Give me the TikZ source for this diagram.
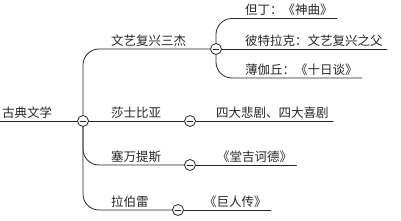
\documentclass[tikz,border=0pt]{standalone}
\usepackage{fontspec}
\newfontfamily\cjk{Noto Sans CJK SC}
\definecolor{inkgray}{HTML}{262626}
\begin{document}
\begin{tikzpicture}[x=1pt,y=-1pt,line cap=round,line join=round,
    topic/.style={font=\cjk\fontsize{12.5}{14}\selectfont,text=inkgray,
      anchor=south west,inner xsep=2pt,inner ysep=2.5pt},
    leaf/.style={topic,inner xsep=4pt},
    fold/.style={circle,draw=inkgray,fill=white,line width=0.8pt,
      minimum size=11pt,inner sep=0pt,
      path picture={\draw[inkgray,line width=0.8pt]
        ([xshift=-3pt]path picture bounding box.center) --
        ([xshift=3pt]path picture bounding box.center);}},
    link/.style={draw=inkgray,line width=0.8pt,rounded corners=16pt}]
  \useasboundingbox (0,0) rectangle (401,221);

  % root and its fold
  \node[topic] (root) at (0,121) {古典文学};
  \node[fold] (c0) at (83,121) {};

  % main branches
  \node[topic] (b1) at (109,49)  {文艺复兴三杰};
  \node[topic] (b2) at (109,121) {莎士比亚};
  \node[topic] (b3) at (109,165) {塞万提斯};
  \node[topic] (b4) at (109,210) {拉伯雷};

  \node[fold] (c1) at (216,49)  {};
  \node[fold] (c2) at (190,121) {};
  \node[fold] (c3) at (190,165) {};
  \node[fold] (c4) at (178,210) {};

  % leaves
  \node[leaf] (l1) at (241,18.5) {但丁：《神曲》};
  \node[leaf] (l2) at (241,49)   {彼特拉克：文艺复兴之父};
  \node[leaf] (l3) at (241,78)   {薄伽丘：《十日谈》};
  \node[leaf] (l4) at (212,121)  {四大悲剧、四大喜剧};
  \node[leaf] (l5) at (213,165)  {《堂吉诃德》};
  \node[leaf] (l6) at (200,210)  {《巨人传》};

  \path[link] (root.south west) -- (c0);
  \path[link] (c0) |- (c1);
  \path[link] (c0) -- (c2);
  \path[link] (c0) |- (c3);
  \path[link] (c0) |- (c4);

  \path[link] (c1) |- (l1.south east);
  \path[link] (c1) -- (l2.south east);
  \path[link] (c1) |- (l3.south east);
  \path[link] (c2) -- (l4.south east);
  \path[link] (c3) -- (l5.south east);
  \path[link] (c4) -- (l6.south east);
\end{tikzpicture}
\end{document}
